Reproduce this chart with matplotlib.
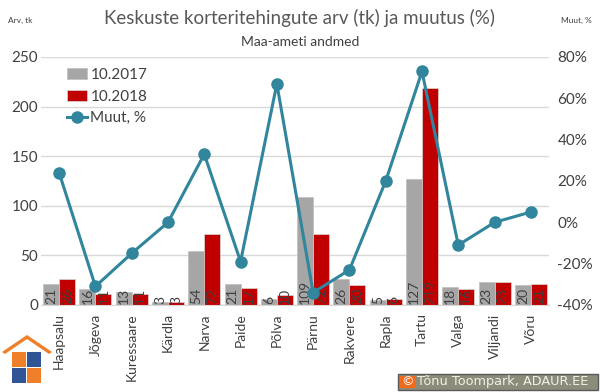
import matplotlib
matplotlib.use("Agg")
import matplotlib.pyplot as plt
from matplotlib.patches import Rectangle, Polygon
import numpy as np

plt.rcParams['font.family'] = ['Lato', 'DejaVu Sans']

categories = ["Haapsalu", "Jõgeva", "Kuressaare", "Kärdla", "Narva", "Paide", "Põlva",
              "Pärnu", "Rakvere", "Rapla", "Tartu", "Valga", "Viljandi", "Võru"]
v2017 = [21, 16, 13, 3, 54, 21, 6, 109, 26, 5, 127, 18, 23, 20]
v2018 = [26, 11, 11, 3, 72, 17, 10, 72, 20, 6, 219, 16, 23, 21]
muut = [24, -31, -15, 0, 33, -19, 67, -34, -23, 20, 73, -11, 0, 5]

W, H = 600, 392
fig = plt.figure(figsize=(6, 3.92), dpi=100)
ax = fig.add_axes([41/W, 1-305/H, (549-41)/W, (305-57)/H])
ax2 = ax.twinx()

x = np.arange(len(categories))
w = 0.44
b1 = ax.bar(x - w/2, v2017, w, color='#a6a6a6', edgecolor='#bfbfbf', lw=0.5, label='10.2017', zorder=2)
b2 = ax.bar(x + w/2, v2018, w, color='#c00000', edgecolor='#d9d9d9', lw=0.5, label='10.2018', zorder=2)
for xi, v in zip(x, v2017):
    ax.text(xi - w/2, 1, str(v), rotation=90, ha='center', va='bottom', fontsize=10, color='#404040', zorder=3)
for xi, v in zip(x, v2018):
    ax.text(xi + w/2, 1, str(v), rotation=90, ha='center', va='bottom', fontsize=10, color='#404040', zorder=3)

ln, = ax2.plot(x, muut, color='#31859c', lw=2.2, marker='o', ms=8, label='Muut, %', zorder=4)

ax.set_xlim(-0.5, len(categories) - 0.5)
ax.set_ylim(0, 250)
ax.set_yticks(range(0, 251, 50))
ax2.set_ylim(-40, 80)
ax2.set_yticks(range(-40, 81, 20))
ax2.set_yticklabels([f"{t}%" for t in range(-40, 81, 20)])
ax.grid(axis='y', color='#d9d9d9', lw=1, zorder=0)
ax.set_axisbelow(True)
ax.set_xticks(x)
ax.set_xticklabels(categories, rotation=90, fontsize=10, color='#404040')
for a in (ax, ax2):
    for s in ('top', 'left', 'right'):
        a.spines[s].set_visible(False)
    a.tick_params(axis='y', length=0, labelsize=11, labelcolor='#404040')
ax.spines['bottom'].set_visible(False)
ax2.spines['bottom'].set_color('#d9d9d9')
ax.tick_params(axis='x', length=0, pad=6)
ax.tick_params(axis='y', pad=2)
ax2.tick_params(axis='y', pad=6)
ax2.set_zorder(ax.get_zorder() + 1)
ax2.patch.set_visible(False)

handles = [b1, b2, ln]
ax.legend(handles, ['10.2017', '10.2018', 'Muut, %'], loc='upper left', bbox_to_anchor=(0.04, 0.98),
          frameon=False, fontsize=11, labelcolor='#404040', handlelength=1.3, handletextpad=0.2,
          labelspacing=0.5, borderaxespad=0)

fig.text(0.5, 1-18/H, "Keskuste korteritehingute arv (tk) ja muutus (%)", ha='center', va='center',
         fontsize=13.5, color='#595959')
fig.text(0.5, 1-42/H, "Maa-ameti andmed", ha='center', va='center', fontsize=10, color='#404040')
fig.text(8/W, 1-20/H, "Arv, tk", ha='left', va='center', fontsize=6, color='#404040')
fig.text(592/W, 1-20/H, "Muut, %", ha='right', va='center', fontsize=6, color='#404040')

# logo (decorative)
def P(px, py):
    return (px/W, 1-py/H)
fig.patches.append(Polygon([P(2, 352), P(27, 335), P(52, 352), P(49, 354), P(27, 339), P(5, 354)],
                           closed=True, fc='#f07f2a', ec='none', transform=fig.transFigure))
for (px, py, c) in [(12, 352, '#f07f2a'), (27, 352, '#2f5597'), (12, 368, '#2f5597'), (27, 368, '#f07f2a')]:
    fig.patches.append(Rectangle(P(px, py + 15), 14/W, 15/H, fc=c, ec='none', transform=fig.transFigure))

# copyright box
fig.patches.append(Rectangle(P(398, 390), 200/W, 16/H, fc='#8c8c7a', ec='#5a5a5a', lw=1, transform=fig.transFigure))
fig.patches.append(Rectangle(P(400, 388), 15/W, 12/H, fc='#f26b1d', ec='none', transform=fig.transFigure))
fig.text(407.5/W, 1-382/H, "©", ha='center', va='center', fontsize=9, color='white', family='DejaVu Sans')
fig.text(417/W, 1-382/H, "Tõnu Toompark, ADAUR.EE", ha='left', va='center', fontsize=9.3,
         color='#f0f0e6', family='DejaVu Sans')

fig.savefig("out.png", dpi=100)
